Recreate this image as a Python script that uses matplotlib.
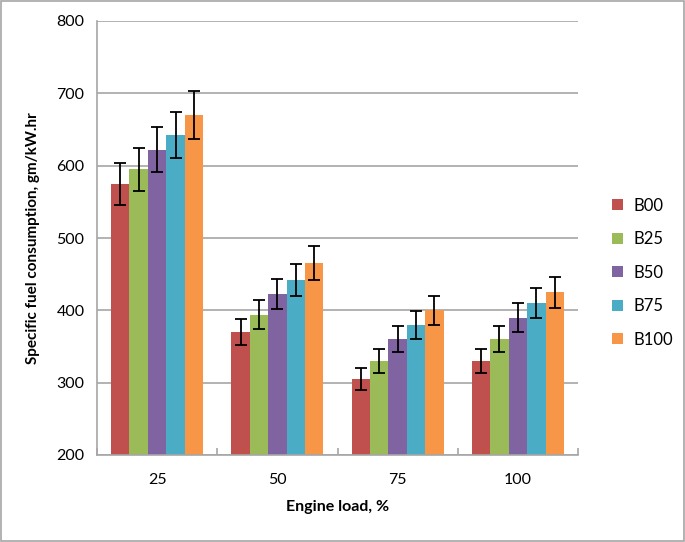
import matplotlib.pyplot as plt
import numpy as np
from matplotlib.patches import Rectangle

plt.rcParams['font.family'] = ['Lato', 'DejaVu Sans']

loads = ["25", "50", "75", "100"]
blends = ["B00", "B25", "B50", "B75", "B100"]
colors = ["#C0504D", "#9BBB59", "#8064A2", "#4BACC6", "#F79646"]

# specific fuel consumption per blend, one value per engine load
sfc = {
    "B00": [575, 370, 305, 330],
    "B25": [595, 394, 330, 360],
    "B50": [622, 423, 360, 390],
    "B75": [642, 442, 380, 410],
    "B100": [670, 465, 400, 425],
}
err = {
    "B00": [29, 18.5, 15, 16.5],
    "B25": [30, 20, 16.5, 18],
    "B50": [31, 21, 18, 19.5],
    "B75": [32, 22, 19, 20.5],
    "B100": [33.5, 23.5, 20, 21.3],
}

fig = plt.figure(figsize=(6.85, 5.42), dpi=100)
ax = fig.add_axes([97/685, 1-455/542, 481/685, 434/542])

x = np.arange(len(loads))
w = 0.1533
for i, (b, c) in enumerate(zip(blends, colors)):
    pos = x + (i - 2) * w
    ax.bar(pos, sfc[b], width=w, bottom=0, color=c, label=b, zorder=2)
    ax.errorbar(pos, sfc[b], yerr=err[b], fmt='none', ecolor='black',
                elinewidth=1.3, capsize=4, capthick=1.3, zorder=3)

ax.set_ylim(200, 800)
ax.set_xlim(-0.5, 3.5)
ax.set_yticks(range(200, 801, 100))
ax.yaxis.grid(True, color='#a6a6a6', linewidth=1.2, zorder=0)
ax.set_axisbelow(True)

ax.set_xticks(x)
ax.set_xticklabels(loads)
ax.set_xticks(np.arange(-0.5, 3.6, 1), minor=True)
ax.tick_params(axis='x', which='major', length=0, pad=13, labelsize=11.5)
ax.tick_params(axis='x', which='minor', direction='in', length=5,
               color='#a6a6a6', width=1.2)
ax.tick_params(axis='y', length=0, pad=9, labelsize=11.5)

for s in ['top', 'right']:
    ax.spines[s].set_visible(False)
for s in ['left', 'bottom']:
    ax.spines[s].set_color('#a6a6a6')
    ax.spines[s].set_linewidth(1.2)

ax.set_xlabel("Engine load, %", fontsize=11.5, fontweight='bold', labelpad=9)
ax.set_ylabel("Specific fuel consumption, gm/kW.hr", fontsize=11,
              fontweight='bold', labelpad=12)

ax.legend(loc='center left', bbox_to_anchor=(1.04, 0.42), frameon=False,
          fontsize=12, handlelength=0.65, handleheight=0.65, labelspacing=1.05,
          handletextpad=0.6)

fig.patches.append(Rectangle((0.001, 0.001), 0.997, 0.997, transform=fig.transFigure,
                             fill=False, edgecolor='#a6a6a6', linewidth=1.2))

fig.savefig("out.png", dpi=100)
